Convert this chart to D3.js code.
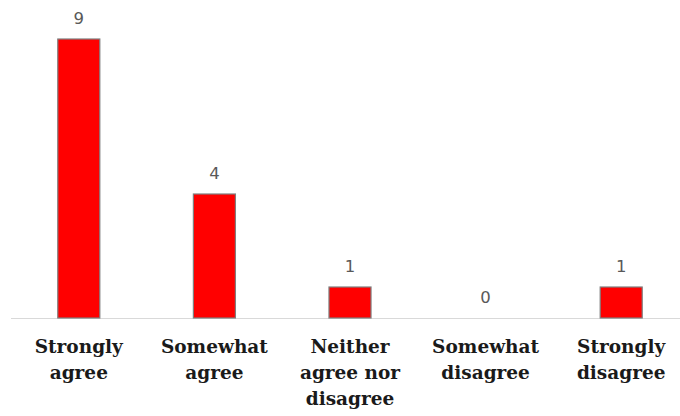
<!DOCTYPE html>
<html>
<head>
<meta charset="utf-8">
<script src="https://cdn.jsdelivr.net/npm/d3@7"></script>
<style>
  html, body { margin: 0; padding: 0; background: #fff; }
  svg { display: block; }
</style>
</head>
<body>
<svg id="chart" width="680" height="416"></svg>
<script>
// Survey responses: count per answer
const categories = [
  ["Strongly", "agree"],
  ["Somewhat", "agree"],
  ["Neither", "agree nor", "disagree"],
  ["Somewhat", "disagree"],
  ["Strongly", "disagree"]
];
const counts = [9, 4, 1, 0, 1];

const svg = d3.select("#chart");
const baseY = 318;
const keys = categories.map(c => c.join(" "));
const rows = counts.map((v, i) => ({ key: keys[i], value: v }));

const x = d3.scaleBand()
  .domain(keys)
  .range([11, 689])
  .paddingInner(0.69)
  .paddingOuter(0.345);

const y = d3.scaleLinear()
  .domain([0, 9])
  .range([baseY, 39]);

// baseline
svg.append("line")
  .attr("x1", 11).attr("x2", 680)
  .attr("y1", baseY + 0.5).attr("y2", baseY + 0.5)
  .attr("stroke", "#d9d9d9")
  .attr("stroke-width", 1);

// bars (zero values draw nothing)
svg.selectAll("rect.bar")
  .data(rows.filter(r => r.value > 0))
  .join("rect")
  .attr("class", "bar")
  .attr("x", d => x(d.key))
  .attr("y", d => y(d.value))
  .attr("width", x.bandwidth())
  .attr("height", d => baseY - y(d.value))
  .attr("fill", "#ff0000")
  .attr("stroke", "#7f7f7f")
  .attr("stroke-width", 1.2);

// value labels
svg.selectAll("text.val")
  .data(rows)
  .join("text")
  .attr("class", "val")
  .attr("x", d => x(d.key) + x.bandwidth() / 2)
  .attr("y", d => y(d.value) - 15)
  .attr("text-anchor", "middle")
  .attr("font-family", "DejaVu Sans, sans-serif")
  .attr("font-size", 16.5)
  .attr("fill", "#595959")
  .text(d => d.value);

// category labels
const cat = svg.selectAll("text.cat")
  .data(categories)
  .join("text")
  .attr("class", "cat")
  .attr("text-anchor", "middle")
  .attr("font-family", "DejaVu Serif, serif")
  .attr("font-weight", "bold")
  .attr("font-size", 18.5)
  .attr("fill", "#1a1a1a");

cat.each(function(lines, i) {
  const cx = x(keys[i]) + x.bandwidth() / 2;
  d3.select(this).selectAll("tspan")
    .data(lines)
    .join("tspan")
    .attr("x", cx)
    .attr("y", (l, j) => 353 + j * 26)
    .text(l => l);
});
</script>
</body>
</html>
